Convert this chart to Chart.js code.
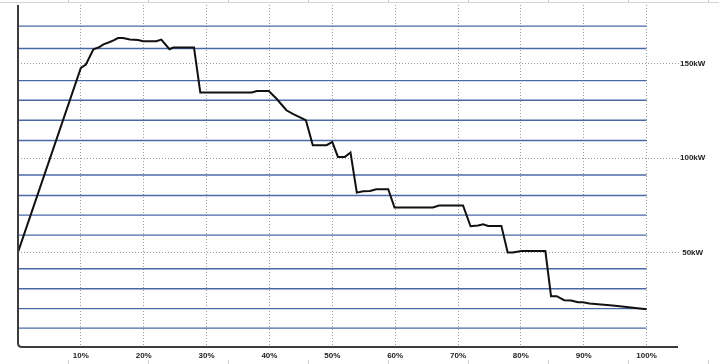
<!DOCTYPE html>
<html>
<head>
<meta charset="utf-8">
<script src="https://cdn.jsdelivr.net/npm/chart.js@4.4.1/dist/chart.umd.min.js"></script>
<style>
  html, body { margin:0; padding:0; background:#fff; }
  #wrap { position:relative; width:719px; height:364px; }
  canvas { position:absolute; left:0; top:0; }
  .rulerTop { position:absolute; left:0; top:0; width:719px; height:2px; border-bottom:1px solid #d4d4d4;
    background: repeating-linear-gradient(to right, transparent 0 68px, #c8c8c8 68px 69px, transparent 69px 80px); }
  .rulerBot { position:absolute; left:0; top:360px; width:719px; height:4px;
    background: repeating-linear-gradient(to right, transparent 0 68px, #cfcfcf 68px 69px, transparent 69px 80px); }
</style>
</head>
<body>
<div id="wrap">
  <div class="rulerTop"></div>
  <div class="rulerBot"></div>
  <canvas id="c" width="719" height="364"></canvas>
</div>
<script>
// Share of time / position (%) along the curve
const sharePct = [0, 10, 10.8, 12.0, 12.8, 13.6, 14.6, 15.2, 15.9, 16.7, 17.8, 19.1, 19.9, 22.0, 22.8, 24.1, 24.7, 28.0,
  29.0, 37.2, 38.0, 39.9, 41.1, 42.7, 43.8, 44.8, 45.8, 46.9, 49.1, 50.0, 50.9, 52.0, 52.9, 53.9, 54.9, 56.0, 57.0, 58.9,
  59.9, 66.0, 67.0, 70.8, 72.0, 73.2, 74.0, 74.8, 76.9, 77.9, 78.7, 80.1, 83.9, 84.8, 85.7, 86.9, 88.0, 89.1, 89.9, 90.9,
  94.6, 96.8, 100];
// Power values (kW)
const powerKW = [50.2, 147.7, 149.5, 157.6, 158.5, 160.2, 161.4, 162.3, 163.5, 163.5, 162.7, 162.5, 161.8, 161.8, 162.7, 157.6, 158.5, 158.5,
  134.7, 134.7, 135.5, 135.5, 131.5, 125.3, 123.2, 121.7, 120.0, 106.8, 106.8, 108.5, 100.6, 100.6, 102.9, 81.7, 82.4, 82.6, 83.5, 83.5,
  73.8, 73.8, 74.9, 74.9, 63.9, 64.3, 65.0, 64.1, 64.1, 50.0, 50.0, 50.8, 50.8, 26.9, 26.9, 24.8, 24.6, 23.7, 23.7, 23.0,
  22.0, 21.2, 20.0];
// Blue ruled reference lines (kW)
const blueLinesKW = [10, 20.3, 30.8, 41.4, 59.2, 69.8, 80.2, 91, 109.3, 120, 130.6, 141, 158, 169.8];
// Tick labels
const xTickStep = 10;     // percent
const yTickStep = 50;     // kW
const xUnit = '%';
const yUnit = 'kW';

const mainData = sharePct.map((x, i) => ({ x, y: powerKW[i] }));
const blueSets = blueLinesKW.map(v => ({
  data: [{ x: 0, y: v }, { x: 100, y: v }],
  borderColor: '#4b68a6', borderWidth: 1.4, pointRadius: 0, fill: false
}));

const axisPlugin = {
  id: 'roundedAxis',
  afterDatasetsDraw(chart) {
    const { ctx, chartArea: a } = chart;
    const r = 4;
    ctx.save();
    ctx.strokeStyle = '#3c3c3c';
    ctx.lineWidth = 2;
    ctx.beginPath();
    ctx.moveTo(a.left, a.top);
    ctx.lineTo(a.left, a.bottom - r);
    ctx.quadraticCurveTo(a.left, a.bottom, a.left + r, a.bottom);
    ctx.lineTo(a.right, a.bottom);
    ctx.stroke();
    ctx.restore();
  }
};

new Chart(document.getElementById('c'), {
  type: 'line',
  data: {
    datasets: [
      { data: mainData, borderColor: '#111', borderWidth: 2, pointRadius: 0, fill: false, tension: 0 },
      ...blueSets
    ]
  },
  options: {
    responsive: false,
    animation: false,
    events: [],
    layout: { padding: { left: 18, top: 5, right: 0, bottom: 0 } },
    plugins: { legend: { display: false }, tooltip: { enabled: false } },
    scales: {
      x: {
        type: 'linear', position: 'bottom', min: 0, max: 105,
        afterFit(s) { s.height = 17; },
        border: { display: false, dash: [1, 2] },
        grid: {
          drawTicks: false,
          color: ctx => (ctx.tick && ctx.tick.value > 0 ? '#9a9a9a' : 'rgba(0,0,0,0)'),
          lineWidth: 1
        },
        ticks: {
          stepSize: xTickStep, includeBounds: false, autoSkip: false, maxRotation: 0, padding: 4,
          color: '#222', font: { family: 'Liberation Sans, Arial', size: 8, weight: 'bold' },
          callback: v => (v > 0 ? v + xUnit : '')
        }
      },
      y: {
        type: 'linear', position: 'right', min: 0, max: 181,
        afterFit(s) { s.width = 41; },
        border: { display: false, dash: [1, 2] },
        grid: {
          drawTicks: true, tickLength: 2,
          tickColor: ctx => (ctx.tick && ctx.tick.value > 0 ? '#9a9a9a' : 'rgba(0,0,0,0)'),
          tickBorderDash: [1, 2],
          color: ctx => (ctx.tick && ctx.tick.value > 0 ? '#9a9a9a' : 'rgba(0,0,0,0)'),
          lineWidth: 1
        },
        ticks: {
          stepSize: yTickStep, includeBounds: false, padding: 0, crossAlign: 'center',
          color: '#222', font: { family: 'Liberation Sans, Arial', size: 8, weight: 'bold' },
          callback: v => (v > 0 ? v + yUnit : '')
        }
      }
    }
  },
  plugins: [axisPlugin]
});
</script>
</body>
</html>
